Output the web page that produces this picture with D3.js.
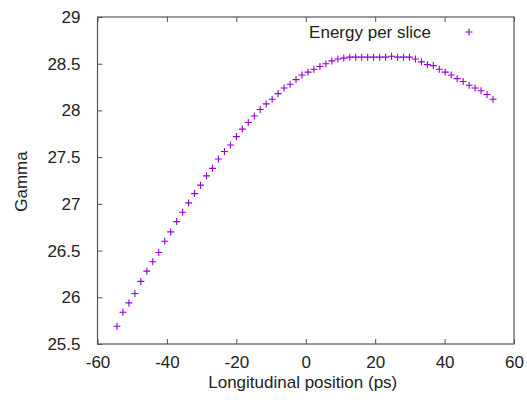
<!DOCTYPE html>
<html><head><meta charset="utf-8">
<script src="https://cdn.jsdelivr.net/npm/d3@7"></script>
<style>body{margin:0;background:#fff}svg{display:block}text{font-family:"Liberation Sans",Arial,sans-serif;fill:#222}</style>
</head><body><svg id="c" width="527" height="407"></svg>
<script>
const seriesName = "Energy per slice";
const positions = [-54.39,-52.67,-50.95,-49.23,-47.51,-45.79,-44.07,-42.35,-40.63,-38.91,-37.19,-35.47,-33.75,-32.03,-30.31,-28.59,-26.87,-25.15,-23.43,-21.71,-19.99,-18.28,-16.56,-14.84,-13.12,-11.40,-9.68,-7.96,-6.24,-4.52,-2.80,-1.08,0.64,2.36,4.08,5.80,7.52,9.24,10.96,12.68,14.40,16.12,17.84,19.56,21.28,23.00,24.72,26.44,28.16,29.88,31.60,33.32,35.04,36.76,38.47,40.19,41.91,43.63,45.35,47.07,48.79,50.51,52.23,53.95];
const gammas = [25.69,25.84,25.94,26.04,26.17,26.28,26.38,26.48,26.60,26.70,26.81,26.91,27.01,27.11,27.20,27.30,27.38,27.48,27.56,27.63,27.72,27.80,27.87,27.94,28.01,28.07,28.12,28.18,28.24,28.28,28.33,28.38,28.41,28.44,28.47,28.50,28.53,28.55,28.56,28.57,28.57,28.57,28.57,28.57,28.57,28.57,28.58,28.57,28.57,28.57,28.55,28.52,28.49,28.48,28.44,28.41,28.38,28.34,28.31,28.27,28.24,28.21,28.17,28.12];
const xTicks = [-60,-40,-20,0,20,40,60];
const yTicks = [25.5,26,26.5,27,27.5,28,28.5,29];
const xLabel = "Longitudinal position (ps)";
const yLabel = "Gamma";

const svg = d3.select("#c");
const L=97.5, R=514, T=17, B=344;
const x = d3.scaleLinear().domain([-60,60]).range([L,R]);
const y = d3.scaleLinear().domain([25.5,29]).range([B,T]);
const color = "#9400D3";
const fs = 17;

// bottom axis
const gx = svg.append("g").attr("transform",`translate(0,${B})`)
  .call(d3.axisBottom(x).tickValues(xTicks).tickSize(-5).tickPadding(12).tickFormat(d=>String(d)));
// top mirror ticks
const gt = svg.append("g").attr("transform",`translate(0,${T})`)
  .call(d3.axisTop(x).tickValues(xTicks).tickSize(-5).tickFormat(""));
// left axis
const gy = svg.append("g").attr("transform",`translate(${L},0)`)
  .call(d3.axisLeft(y).tickValues(yTicks).tickSize(-5).tickPadding(17).tickFormat(d=>String(d)));
[gx,gt,gy].forEach(g=>{
  g.select(".domain").remove();
  g.selectAll(".tick line").attr("stroke","#555").attr("stroke-width",1);
  g.selectAll(".tick text").attr("font-size",fs).attr("font-family","Liberation Sans, Arial, sans-serif").attr("fill","#222");
});
// border
svg.append("rect").attr("x",L).attr("y",T).attr("width",R-L).attr("height",B-T)
  .attr("fill","none").attr("stroke","#555").attr("stroke-width",1.2);

// points
const pts = positions.map((p,i)=>({p, g:gammas[i]}));
const s = 3.5;
svg.append("g").selectAll("path").data(pts).join("path")
  .attr("d",d=>{const cx=x(d.p), cy=y(d.g);return `M${cx-s},${cy}H${cx+s}M${cx},${cy-s}V${cy+s}`;})
  .attr("stroke",color).attr("stroke-width",1.1).attr("fill","none");

// legend
svg.append("text").attr("x",431).attr("y",32).attr("dy","0.35em").attr("text-anchor","end")
  .attr("font-size",fs).text(seriesName);
svg.append("path").attr("d",`M${469-s},32H${469+s}M469,${32-s}V${32+s}`)
  .attr("stroke",color).attr("stroke-width",1.1);

// axis labels
svg.append("text").attr("x",(L+R)/2 - 3).attr("y",382).attr("dy","0.35em").attr("text-anchor","middle")
  .attr("font-size",fs).text(xLabel);
svg.append("text").attr("transform",`translate(21,${(T+B)/2 + 1}) rotate(-90)`).attr("dy","0.35em")
  .attr("text-anchor","middle").attr("font-size",fs).text(yLabel);
</script></body></html>
